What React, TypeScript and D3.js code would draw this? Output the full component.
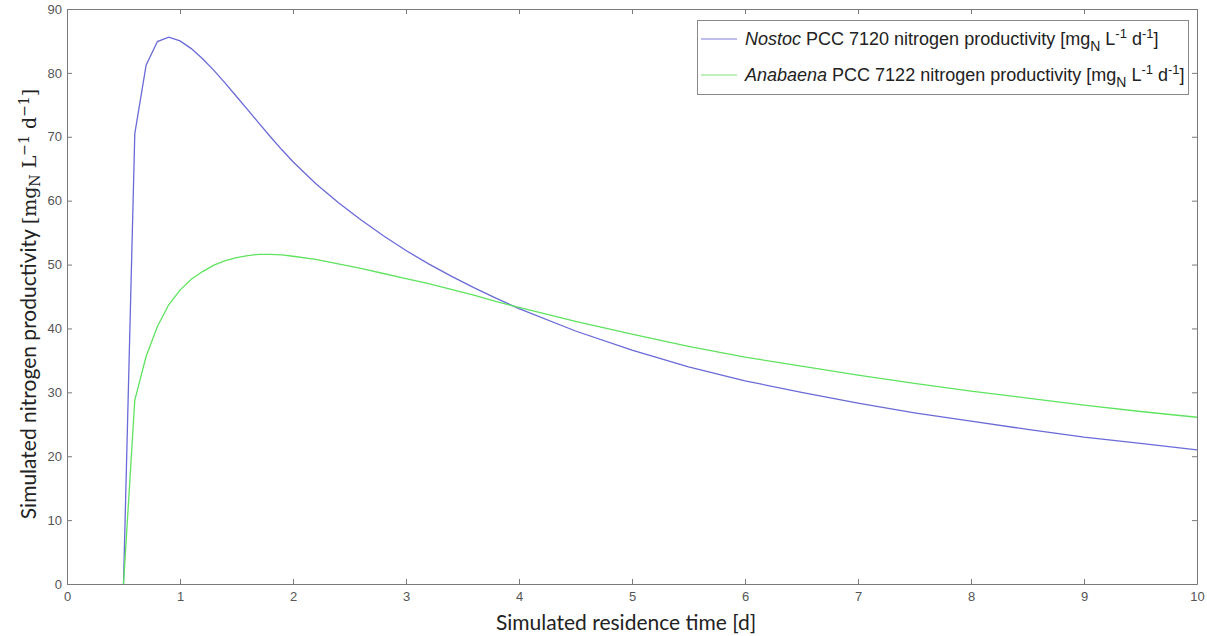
import React, { useEffect, useRef } from "react";
import * as d3 from "d3";

// residence time [d]
const residenceTime = [
  0.5, 0.6, 0.7, 0.8, 0.9, 1.0, 1.1, 1.2, 1.3, 1.4, 1.5, 1.6, 1.7, 1.8, 1.9, 2.0,
  2.2, 2.4, 2.6, 2.8, 3.0, 3.2, 3.4, 3.6, 3.8, 4.0,
  4.5, 5.0, 5.5, 6.0, 6.5, 7.0, 7.5, 8.0, 8.5, 9.0, 9.5, 10.0,
];

// Nostoc PCC 7120
const nostoc = [
  0, 70.5, 81.2, 84.9, 85.6, 85.0, 83.8, 82.2, 80.4, 78.4, 76.3, 74.2, 72.1, 70.0, 68.0, 66.1,
  62.7, 59.7, 57.0, 54.5, 52.2, 50.1, 48.2, 46.4, 44.7, 43.1,
  39.6, 36.6, 34.0, 31.8, 30.0, 28.3, 26.8, 25.5, 24.2, 23.0, 22.0, 21.0,
];

// Anabaena PCC 7122
const anabaena = [
  0, 28.8, 35.6, 40.3, 43.7, 46.0, 47.7, 48.9, 49.9, 50.6, 51.1, 51.4, 51.6, 51.6, 51.5, 51.3,
  50.8, 50.1, 49.4, 48.6, 47.8, 47.0, 46.1, 45.2, 44.2, 43.3,
  41.1, 39.1, 37.2, 35.5, 34.1, 32.7, 31.4, 30.2, 29.1, 28.0, 27.0, 26.1,
];

const xTicks = [0, 1, 2, 3, 4, 5, 6, 7, 8, 9, 10];
const yTicks = [0, 10, 20, 30, 40, 50, 60, 70, 80, 90];

const legendItems = [
  { species: "Nostoc", strain: " PCC 7120 nitrogen productivity [mg", color: "#7b7bdc", values: nostoc, line: "#6a6ad8" },
  { species: "Anabaena", strain: " PCC 7122 nitrogen productivity [mg", color: "#7ce07c", values: anabaena, line: "#5fe35f" },
];

const App = () => {
  const ref = useRef<SVGSVGElement>(null);

  useEffect(() => {
    const svg = d3.select(ref.current);
    svg.selectAll("*").remove();

    const width = 1207;
    const height = 636;
    const margin = { left: 67, right: 10, top: 9, bottom: 52 };

    const x = d3.scaleLinear().domain([0, 10]).range([margin.left, width - margin.right]);
    const y = d3.scaleLinear().domain([0, 90]).range([height - margin.bottom, margin.top]);

    const axisColor = "#7a7a7a";
    const labelColor = "#555";
    const tickFont = "'Liberation Sans', Arial, sans-serif";

    // axes (ticks pointing inward, box on)
    const styleAxis = (g) => {
      g.select(".domain").attr("stroke", axisColor);
      g.selectAll(".tick line").attr("stroke", axisColor);
      g.selectAll(".tick text")
        .attr("fill", labelColor)
        .style("font-family", tickFont)
        .style("font-size", "13px");
    };

    svg.append("g")
      .attr("transform", "translate(0," + y(0) + ")")
      .call(d3.axisBottom(x).tickValues(xTicks).tickSizeInner(-5).tickSizeOuter(0).tickPadding(8))
      .call(styleAxis);

    svg.append("g")
      .attr("transform", "translate(0," + y(90) + ")")
      .call(d3.axisTop(x).tickValues(xTicks).tickSizeInner(-5).tickSizeOuter(0).tickFormat(() => ""))
      .call(styleAxis);

    svg.append("g")
      .attr("transform", "translate(" + x(0) + ",0)")
      .call(d3.axisLeft(y).tickValues(yTicks).tickSizeInner(-5).tickSizeOuter(0).tickPadding(5))
      .call(styleAxis);

    svg.append("g")
      .attr("transform", "translate(" + x(10) + ",0)")
      .call(d3.axisRight(y).tickValues(yTicks).tickSizeInner(-5).tickSizeOuter(0).tickFormat(() => ""))
      .call(styleAxis);

    // curves
    const line = d3.line<number>()
      .x((d, i) => x(residenceTime[i]))
      .y((d) => y(d));

    legendItems.forEach((item) => {
      svg.append("path")
        .datum(item.values)
        .attr("d", line)
        .attr("fill", "none")
        .attr("stroke", item.line)
        .attr("stroke-width", 1.3);
    });

    // legend
    const lg = svg.append("g");
    lg.append("rect")
      .attr("x", 697.5)
      .attr("y", 20.5)
      .attr("width", 491)
      .attr("height", 74)
      .attr("fill", "white")
      .attr("stroke", "#8a8a8a");

    legendItems.forEach((item, i) => {
      const cy = 39 + i * 36;
      lg.append("line")
        .attr("x1", 701)
        .attr("x2", 737)
        .attr("y1", cy)
        .attr("y2", cy)
        .attr("stroke", item.color)
        .attr("stroke-width", 1);

      const t = lg.append("text")
        .attr("x", 745)
        .attr("y", cy + 5.5)
        .attr("fill", "#222")
        .style("font-family", tickFont)
        .style("font-size", "18px");
      t.append("tspan").attr("font-style", "italic").text(item.species);
      t.append("tspan").text(item.strain);
      t.append("tspan").attr("dy", 6).style("font-size", "14px").text("N");
      t.append("tspan").attr("dy", -6).text(" L");
      t.append("tspan").attr("dy", -7).style("font-size", "13px").text("-1");
      t.append("tspan").attr("dy", 7).text(" d");
      t.append("tspan").attr("dy", -7).style("font-size", "13px").text("-1");
      t.append("tspan").attr("dy", 7).text("]");
    });

    // axis titles
    svg.append("text")
      .attr("x", 626)
      .attr("y", 630)
      .attr("text-anchor", "middle")
      .attr("fill", "#222")
      .style("font-family", "Lato, 'Open Sans', sans-serif")
      .style("font-size", "21px")
      .text("Simulated residence time [d]");

    const yl = svg.append("text")
      .attr("transform", "translate(36,304) rotate(-90)")
      .attr("text-anchor", "middle")
      .attr("fill", "#222")
      .style("font-family", "Lato, 'Open Sans', sans-serif")
      .style("font-size", "21px");
    yl.append("tspan").text("Simulated nitrogen productivity ");
    const mathFont = "'DejaVu Serif', 'Liberation Serif', serif";
    yl.append("tspan").style("font-family", mathFont).style("font-size", "19px").text("[mg");
    yl.append("tspan").style("font-family", mathFont).style("font-size", "14px").attr("dy", 4).text("N");
    yl.append("tspan").style("font-family", mathFont).style("font-size", "19px").attr("dy", -4).text(" L");
    yl.append("tspan").style("font-family", mathFont).style("font-size", "14px").attr("dy", -7).text("\u22121");
    yl.append("tspan").style("font-family", mathFont).style("font-size", "19px").attr("dy", 7).text(" d");
    yl.append("tspan").style("font-family", mathFont).style("font-size", "14px").attr("dy", -7).text("\u22121");
    yl.append("tspan").style("font-family", mathFont).style("font-size", "19px").attr("dy", 7).text("]");
  }, []);

  return (
    <svg
      ref={ref}
      width={1207}
      height={636}
      style={{ position: "absolute", left: 0, top: 0, background: "white" }}
    ></svg>
  );
};

export default App;
